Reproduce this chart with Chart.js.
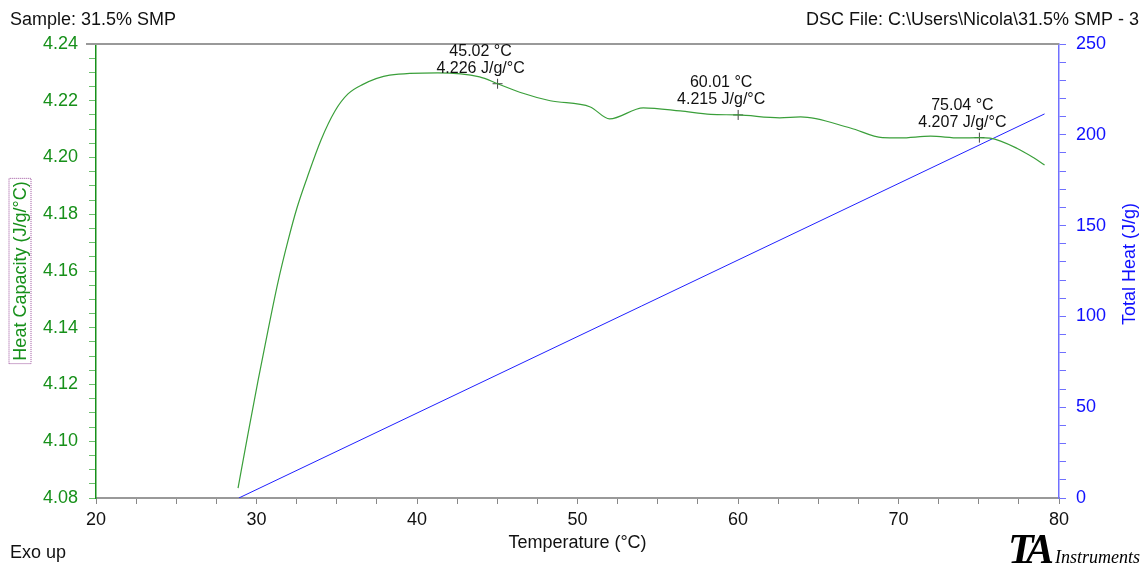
<!DOCTYPE html>
<html lang="en">
<head>
    <meta charset="UTF-8">
    <title>DSC - 31.5% SMP</title>
    <script src="https://cdn.jsdelivr.net/npm/chart.js@4.4.0/dist/chart.umd.min.js"></script>
    <style>
        html, body { margin: 0; padding: 0; background: #fff; overflow: hidden; }
        #wrap { width: 1143px; height: 567px; position: relative; }
    </style>
</head>
<body>
<div id="wrap"><canvas id="dsc" width="1143" height="567"></canvas></div>
<script>
// Heat capacity curve (green)
const cpTemp = [28.85, 29.47, 30.09, 30.72, 31.34, 31.96, 32.52, 33.15, 34.02, 34.89, 35.7, 36.57, 38.3, 41.3, 43.9, 45.02, 46.4, 48.3, 50.8, 52.0, 54.1, 56.4, 58.3, 60.01, 62.6, 63.9, 67.0, 69.0, 70.1, 72.0, 73.8, 75.04, 75.7, 77.4, 78.4, 79.1];
const cpValues = [4.0835, 4.1026, 4.1212, 4.1392, 4.1561, 4.1706, 4.1822, 4.1928, 4.2062, 4.2164, 4.2224, 4.2256, 4.229, 4.2298, 4.2284, 4.226, 4.223, 4.220, 4.2178, 4.2136, 4.2175, 4.2164, 4.2152, 4.215, 4.214, 4.2143, 4.2104, 4.207, 4.2069, 4.2075, 4.2069, 4.207, 4.2068, 4.2032, 4.200, 4.1974];

// Total heat (blue)
const heatTemp = [28.9, 79.1];
const heatValues = [0, 211.5];

// Marked points
const markTemp = [45.02, 60.01, 75.04];
const markCp = [4.226, 4.215, 4.207];

const greenLine = '#3a9f3a';
const greenText = '#17901a';
const blueText = '#1010ff';
const blueAxis = '#7070ff';
const font = '"Liberation Sans", Arial, sans-serif';
const serif = '"Liberation Serif", "DejaVu Serif", serif';

const decorPlugin = {
    id: 'decor',
    afterDraw(chart) {
        const ctx = chart.ctx;
        const area = chart.chartArea;
        const xs = chart.scales.x, ys = chart.scales.y;
        ctx.save();
        // top frame line
        ctx.strokeStyle = '#999';
        ctx.lineWidth = 2;
        ctx.beginPath();
        ctx.moveTo(area.left - 10, area.top);
        ctx.lineTo(area.right, area.top);
        ctx.stroke();

        ctx.fillStyle = '#111';
        ctx.font = '18px ' + font;
        ctx.textBaseline = 'middle';
        ctx.textAlign = 'left';
        ctx.fillText('Sample: 31.5% SMP', 10, 20);
        ctx.fillText('Exo up', 10, 553);
        ctx.textAlign = 'right';
        ctx.fillText('DSC File: C:\\Users\\Nicola\\31.5% SMP - 3', 1139, 20);
        ctx.textAlign = 'center';
        ctx.fillText('Temperature (°C)', (area.left + area.right) / 2, 543);

        // marker labels
        ctx.font = '16px ' + font;
        for (let i = 0; i < markTemp.length; i++) {
            const px = xs.getPixelForValue(markTemp[i]);
            const py = ys.getPixelForValue(markCp[i]);
            ctx.fillText(markTemp[i].toFixed(2) + ' °C', px - 17, py - 32);
            ctx.fillText(markCp[i].toFixed(3) + ' J/g/°C', px - 17, py - 15);
        }

        // left axis title with dotted box
        ctx.save();
        ctx.translate(20, 271);
        ctx.rotate(-Math.PI / 2);
        ctx.font = '18px ' + font;
        ctx.fillStyle = greenText;
        ctx.fillText('Heat Capacity (J/g/°C)', 0, 1);
        const w = ctx.measureText('Heat Capacity (J/g/°C)').width;
        ctx.strokeStyle = '#9b4f9b';
        ctx.lineWidth = 1;
        ctx.setLineDash([1, 1]);
        ctx.strokeRect(-w / 2 - 3, -11, w + 6, 22);
        ctx.restore();

        // right axis title
        ctx.save();
        ctx.translate(1130, 264);
        ctx.rotate(-Math.PI / 2);
        ctx.font = '18px ' + font;
        ctx.fillStyle = blueText;
        ctx.fillText('Total Heat (J/g)', 0, 0);
        ctx.restore();

        // TA Instruments logo
        ctx.fillStyle = '#000';
        ctx.textAlign = 'left';
        ctx.textBaseline = 'alphabetic';
        ctx.font = 'italic bold 42px ' + serif;
        ctx.fillText('T', 1008, 563);
        ctx.fillText('A', 1026, 563);
        ctx.font = 'italic 18px ' + serif;
        ctx.fillText('Instruments', 1055, 563);
        ctx.restore();
    }
};

const ctx = document.getElementById('dsc').getContext('2d');
new Chart(ctx, {
    type: 'scatter',
    data: {
        datasets: [
            {
                label: 'Heat Capacity',
                data: cpTemp.map((t, i) => ({ x: t, y: cpValues[i] })),
                showLine: true,
                borderColor: greenLine,
                borderWidth: 1.2,
                pointRadius: 0,
                cubicInterpolationMode: 'monotone',
                yAxisID: 'y'
            },
            {
                label: 'Total Heat',
                data: heatTemp.map((t, i) => ({ x: t, y: heatValues[i] })),
                showLine: true,
                borderColor: '#2020ff',
                borderWidth: 1,
                pointRadius: 0,
                yAxisID: 'y2'
            },
            {
                label: 'Marks',
                data: markTemp.map((t, i) => ({ x: t, y: markCp[i] })),
                pointStyle: 'cross',
                pointRadius: 5,
                borderColor: '#444',
                borderWidth: 1,
                yAxisID: 'y'
            }
        ]
    },
    options: {
        responsive: false,
        animation: false,
        layout: { padding: { top: 44, left: 0, right: 0, bottom: 0 } },
        plugins: { legend: { display: false }, tooltip: { enabled: false } },
        scales: {
            x: {
                type: 'linear',
                min: 20, max: 80,
                afterFit(s) { s.height = 69; },
                border: { color: '#999', width: 2 },
                grid: { drawOnChartArea: false, drawTicks: true, tickLength: 6, color: '#888' },
                ticks: {
                    stepSize: 2.5, autoSkip: false, maxRotation: 0, padding: 5,
                    color: '#111', font: { family: font, size: 18 },
                    callback: v => (Math.round(v * 10) % 100 === 0 ? String(v) : '')
                }
            },
            y: {
                position: 'left',
                min: 4.08, max: 4.24,
                afterFit(s) { s.width = 96; },
                border: { color: greenText, width: 1.5 },
                grid: { drawOnChartArea: false, tickLength: 7, color: '#6cbf6c' },
                ticks: {
                    stepSize: 0.005, autoSkip: false, padding: 11,
                    color: greenText, font: { family: font, size: 18 },
                    callback: v => (Math.round(v * 1000) % 20 === 0 ? v.toFixed(2) : '')
                }
            },
            y2: {
                position: 'right',
                min: 0, max: 250,
                afterFit(s) { s.width = 84; },
                border: { color: blueAxis, width: 1.5 },
                grid: { drawOnChartArea: false, tickLength: 7, color: blueAxis },
                ticks: {
                    stepSize: 10, autoSkip: false, padding: 10,
                    color: blueText, font: { family: font, size: 18 },
                    callback: v => (v % 50 === 0 ? String(v) : '')
                }
            }
        }
    },
    plugins: [decorPlugin]
});
</script>
</body>
</html>
